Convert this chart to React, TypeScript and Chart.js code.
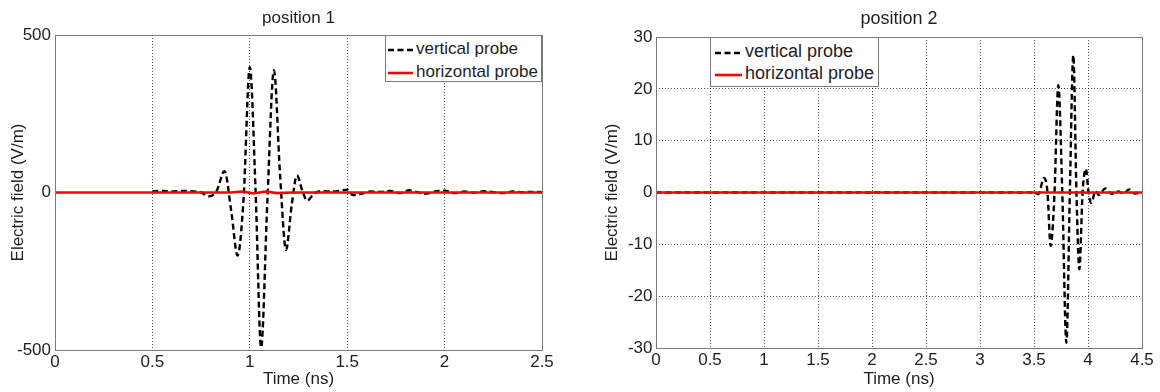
import React, { useEffect, useRef } from "react";
import { Chart, registerables } from "chart.js";

Chart.register(...registerables);

// ---------- data ----------
const seriesNames = ["vertical probe", "horizontal probe"];
const panelTitles = ["position 1", "position 2"];
const xAxisTitle = "Time (ns)";
const yAxisTitle = "Electric field (V/m)";

// position 1
const p1XTicks = [0, 0.5, 1, 1.5, 2, 2.5];
const p1YTicks = [-500, 0, 500];
const p1VerticalTimes = [
  0.5, 0.55, 0.6, 0.65, 0.7, 0.75, 0.79, 0.83, 0.87, 0.905, 0.937, 0.968, 1.0, 1.03,
  1.058, 1.09, 1.124, 1.155, 1.186, 1.215, 1.242, 1.27, 1.295, 1.33, 1.37, 1.42, 1.47,
  1.5, 1.53, 1.57, 1.62, 1.67, 1.72, 1.77, 1.82, 1.86, 1.9, 1.95, 2.0, 2.05, 2.1, 2.15,
  2.2, 2.25, 2.3, 2.35, 2.4, 2.45, 2.5,
];
const p1VerticalValues = [
  4, 5, 3, 5, 4, 0, -12, 5, 68, -60, -200, -20, 398, 0,
  -492, -30, 388, 60, -182, -40, 54, 5, -26, -3, 4, 3, 6,
  9, -8, -4, 3, 2, 5, -2, 7, 1, -4, 3, 6, -2, 3, -1,
  4, 1, -2, 3, 1, 2, 1,
];
const p1HorizontalTimes = [0, 0.9, 0.96, 1.02, 1.08, 1.14, 1.22, 2.5];
const p1HorizontalValues = [0, 0, 3, -3, 3, -2, 0, 0];

// position 2
const p2XTicks = [0, 0.5, 1, 1.5, 2, 2.5, 3, 3.5, 4, 4.5];
const p2YTicks = [-30, -20, -10, 0, 10, 20, 30];
const p2VerticalTimes = [
  0, 3.5, 3.54, 3.593, 3.625, 3.654, 3.69, 3.725, 3.762, 3.8, 3.832, 3.864, 3.893,
  3.92, 3.95, 3.98, 4.005, 4.03, 4.07, 4.1, 4.16, 4.22, 4.28, 4.33, 4.38, 4.43, 4.5,
];
const p2VerticalValues = [
  0, 0, -0.3, 2.8, 0, -10.3, 0, 20.7, 0, -29, 0, 26.5, 0,
  -14.8, 0, 4.6, 0, -2, 0.3, -0.5, 0.8, -0.3, 0.2, -0.2, 0.6, -0.2, 0,
];
const p2HorizontalTimes = [0, 4.5];
const p2HorizontalValues = [0, 0];

// ---------- styles / layout ----------
const FONT = "'Liberation Sans', Arial, Helvetica, sans-serif";
const TEXT = "#1e1e1e";
const W = 1160;
const H = 392;
const PANEL_W = 580;

type Panel = {
  title: string;
  xTicks: number[];
  yTicks: number[];
  vT: number[];
  vV: number[];
  hT: number[];
  hV: number[];
  yGrid: boolean;
  layout: {
    yAxisWidth: number;
    rightPad: number;
    xAxisHeight: number;
    titleSize: number;
    titlePadTop: number;
    titlePadBottom: number;
    yTitlePad: number;
    yTickPad: number;
  };
};

const panels: Panel[] = [
  {
    title: panelTitles[0],
    xTicks: p1XTicks,
    yTicks: p1YTicks,
    vT: p1VerticalTimes,
    vV: p1VerticalValues,
    hT: p1HorizontalTimes,
    hV: p1HorizontalValues,
    yGrid: false,
    layout: {
      yAxisWidth: 55,
      rightPad: 38,
      xAxisHeight: 42,
      titleSize: 17,
      titlePadTop: 8,
      titlePadBottom: 6.6,
      yTitlePad: 8,
      yTickPad: 4,
    },
  },
  {
    title: panelTitles[1],
    xTicks: p2XTicks,
    yTicks: p2YTicks,
    vT: p2VerticalTimes,
    vV: p2VerticalValues,
    hT: p2HorizontalTimes,
    hV: p2HorizontalValues,
    yGrid: true,
    layout: {
      yAxisWidth: 76,
      rightPad: 18,
      xAxisHeight: 44,
      titleSize: 18,
      titlePadTop: 8,
      titlePadBottom: 7.4,
      yTitlePad: 22,
      yTickPad: 3.5,
    },
  },
];

const legendStyles = [
  { left: 385, top: 35, width: 157, height: 47, fontSize: 17, lineX: 3, lineW: 25, textX: 31, rows: [14.3, 36.7] },
  { left: 710, top: 37, width: 169, height: 50, fontSize: 18, lineX: 5, lineW: 27, textX: 35, rows: [14.7, 37] },
];

const boxPlugin = {
  id: "axesBox",
  afterDraw(chart: any) {
    const { ctx, chartArea } = chart;
    const { left, top, right, bottom } = chartArea;
    ctx.save();
    ctx.strokeStyle = "#7a7a7a";
    ctx.lineWidth = 1;
    ctx.setLineDash([]);
    ctx.strokeRect(Math.round(left) + 0.5, Math.round(top) + 0.5, Math.round(right - left), Math.round(bottom - top));
    ctx.restore();
  },
};

function buildChart(canvas: HTMLCanvasElement, p: Panel) {
  const L = p.layout;
  const gridColor = "rgba(0,0,0,0.68)";
  return new Chart(canvas, {
    type: "line",
    data: {
      datasets: [
        {
          label: seriesNames[1],
          data: p.hT.map((t, i) => ({ x: t, y: p.hV[i] })),
          borderColor: "#ff0000",
          borderWidth: 2.6,
          pointRadius: 0,
          fill: false,
          order: 0,
        },
        {
          label: seriesNames[0],
          data: p.vT.map((t, i) => ({ x: t, y: p.vV[i] })),
          borderColor: "#000000",
          borderWidth: 2.4,
          borderDash: [6, 3.5],
          pointRadius: 0,
          fill: false,
          cubicInterpolationMode: "monotone",
          order: 1,
        },
      ],
    },
    options: {
      animation: false,
      responsive: false,
      devicePixelRatio: 1,
      layout: { padding: { left: 0, right: L.rightPad, top: 0, bottom: 0 } },
      plugins: {
        legend: { display: false },
        tooltip: { enabled: false },
        title: {
          display: true,
          text: p.title,
          fullSize: false,
          color: TEXT,
          font: { family: FONT, size: L.titleSize, weight: "normal" },
          padding: { top: L.titlePadTop, bottom: L.titlePadBottom },
        },
      },
      scales: {
        x: {
          type: "linear",
          min: p.xTicks[0],
          max: p.xTicks[p.xTicks.length - 1],
          afterBuildTicks: (s: any) => {
            s.ticks = p.xTicks.map((v) => ({ value: v }));
          },
          afterFit: (s: any) => {
            s.height = L.xAxisHeight;
          },
          grid: { display: true, color: gridColor, lineWidth: 1, drawTicks: false },
          border: { display: false, dash: [1, 2] },
          ticks: {
            padding: 2,
            color: TEXT,
            autoSkip: false,
            maxRotation: 0,
            font: { family: FONT, size: 17 },
            callback: (v: any) => String(v),
          },
          title: {
            display: true,
            text: xAxisTitle,
            color: TEXT,
            font: { family: FONT, size: 17 },
            padding: { top: 0, bottom: 2 },
          },
        },
        y: {
          type: "linear",
          min: p.yTicks[0],
          max: p.yTicks[p.yTicks.length - 1],
          afterBuildTicks: (s: any) => {
            s.ticks = p.yTicks.map((v) => ({ value: v }));
          },
          afterFit: (s: any) => {
            s.width = L.yAxisWidth;
          },
          grid: { display: p.yGrid, color: gridColor, lineWidth: 1, drawTicks: false },
          border: { display: false, dash: [1, 2] },
          ticks: {
            padding: L.yTickPad,
            color: TEXT,
            autoSkip: false,
            font: { family: FONT, size: 17 },
            callback: (v: any) => String(v),
          },
          title: {
            display: true,
            text: yAxisTitle,
            color: TEXT,
            font: { family: FONT, size: 17 },
            padding: { top: L.yTitlePad, bottom: 0 },
          },
        },
      },
    } as any,
    plugins: [boxPlugin],
  });
}

function Legend({ s }: { s: (typeof legendStyles)[number] }) {
  const lh = s.fontSize * 1.2;
  return (
    <div
      style={{
        position: "absolute",
        left: s.left,
        top: s.top,
        width: s.width,
        height: s.height,
        boxSizing: "border-box",
        border: "1px solid #7a7a7a",
        background: "#ffffff",
        fontFamily: FONT,
        color: TEXT,
      }}
    >
      {seriesNames.map((name, i) => (
        <React.Fragment key={name}>
          <svg
            style={{ position: "absolute", left: s.lineX - 1, top: s.rows[i] - 4 }}
            width={s.lineW}
            height={8}
          >
            <line
              x1={0}
              y1={4}
              x2={s.lineW}
              y2={4}
              stroke={i === 0 ? "#000000" : "#ff0000"}
              strokeWidth={i === 0 ? 2.4 : 2.6}
              strokeDasharray={i === 0 ? "6 3.5" : undefined}
            />
          </svg>
          <span
            style={{
              position: "absolute",
              left: s.textX - 1,
              top: s.rows[i] - lh / 2 - 1,
              fontSize: s.fontSize,
              lineHeight: `${lh}px`,
              whiteSpace: "nowrap",
            }}
          >
            {name}
          </span>
        </React.Fragment>
      ))}
    </div>
  );
}

export default function App() {
  const ref1 = useRef<HTMLCanvasElement | null>(null);
  const ref2 = useRef<HTMLCanvasElement | null>(null);

  useEffect(() => {
    const charts: Chart[] = [];
    if (ref1.current) charts.push(buildChart(ref1.current, panels[0]));
    if (ref2.current) charts.push(buildChart(ref2.current, panels[1]));
    return () => charts.forEach((c) => c.destroy());
  }, []);

  return (
    <div style={{ position: "absolute", left: 0, top: 0, width: W, height: H, background: "#ffffff", overflow: "hidden" }}>
      <div style={{ position: "absolute", left: 0, top: 0, width: PANEL_W, height: H }}>
        <canvas ref={ref1} width={PANEL_W} height={H} style={{ width: PANEL_W, height: H, display: "block" }} />
      </div>
      <div style={{ position: "absolute", left: PANEL_W, top: 0, width: PANEL_W, height: H }}>
        <canvas ref={ref2} width={PANEL_W} height={H} style={{ width: PANEL_W, height: H, display: "block" }} />
      </div>
      {legendStyles.map((s, i) => (
        <Legend key={i} s={s} />
      ))}
    </div>
  );
}
